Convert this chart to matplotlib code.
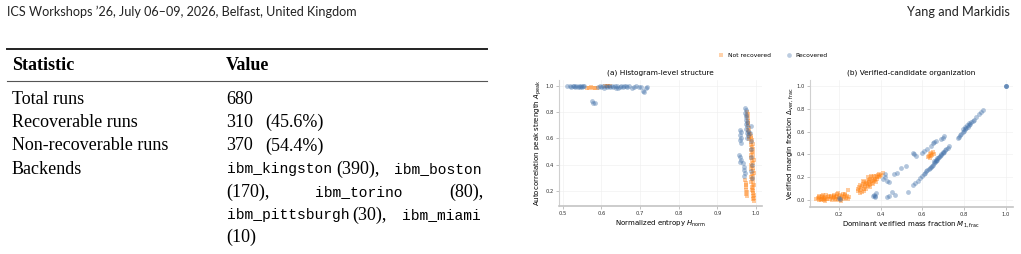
import matplotlib
matplotlib.use("Agg")
import matplotlib.pyplot as plt
from matplotlib.lines import Line2D

# ---- page text ----
header_left = "ICS Workshops \u201926, July 06\u201309, 2026, Belfast, United Kingdom"
header_right = "Yang and Markidis"

table_head = ["Statistic", "Value"]
row_labels = ["Total runs", "Recoverable runs", "Non-recoverable runs", "Backends"]
run_counts = ["680", "310", "370"]
run_shares = ["", "(45.6%)", "(54.4%)"]
backend_names = ["ibm_kingston", "ibm_boston", "ibm_torino", "ibm_pittsburgh", "ibm_miami"]
backend_runs = [390, 170, 80, 30, 10]

# ---- (a) histogram-level structure ----
rec_a_H = [0.512, 0.518, 0.522, 0.526, 0.529, 0.532, 0.535, 0.538, 0.541, 0.544, 0.547, 0.550,
           0.553, 0.556, 0.575, 0.579, 0.584, 0.592, 0.596, 0.600, 0.604, 0.607, 0.611, 0.615,
           0.619, 0.623, 0.627, 0.630, 0.634, 0.637, 0.641, 0.644, 0.648, 0.651, 0.655, 0.659,
           0.663, 0.667, 0.672, 0.678, 0.684, 0.690, 0.697, 0.703, 0.707, 0.710, 0.714, 0.719,
           0.971, 0.973, 0.972, 0.974, 0.975, 0.973, 0.976, 0.974, 0.977, 0.975, 0.978, 0.976,
           0.979, 0.977, 0.958, 0.960, 0.959, 0.961, 0.958, 0.960, 0.957, 0.959, 0.961, 0.958,
           0.966, 0.968, 0.970, 0.972, 0.970, 0.986, 0.988, 0.987, 0.989, 0.988, 0.990, 0.986,
           0.984]
rec_a_A = [0.998, 0.995, 0.992, 0.999, 0.994, 0.990, 0.997, 0.993, 0.999, 0.988, 0.996, 0.992,
           0.998, 0.995, 0.880, 0.872, 0.866, 0.993, 0.998, 0.990, 0.996, 0.985, 0.999, 0.992,
           0.996, 0.988, 0.997, 0.993, 0.999, 0.986, 0.995, 0.980, 0.991, 0.997, 0.987, 0.994,
           0.999, 0.990, 0.996, 0.985, 0.993, 0.998, 0.988, 0.992, 0.960, 0.952, 0.985, 0.991,
           0.828, 0.812, 0.795, 0.780, 0.760, 0.742, 0.725, 0.705, 0.690, 0.672, 0.655, 0.640,
           0.622, 0.605, 0.660, 0.645, 0.625, 0.605, 0.585, 0.568, 0.470, 0.455, 0.438, 0.422,
           0.410, 0.385, 0.360, 0.335, 0.315, 0.580, 0.520, 0.460, 0.400, 0.350, 0.300, 0.690,
           0.640]
nrec_a_H = [0.562, 0.567, 0.572, 0.578, 0.583, 0.588, 0.608, 0.613, 0.617, 0.622,
            0.976, 0.978, 0.977, 0.979, 0.978, 0.980, 0.979, 0.981, 0.980, 0.982, 0.981, 0.983,
            0.982, 0.985, 0.988, 0.986, 0.990, 0.987, 0.991, 0.986, 0.989, 0.992, 0.987, 0.990,
            0.993, 0.988, 0.991, 0.986, 0.994, 0.989, 0.992, 0.987, 0.990, 0.993, 0.988, 0.991,
            0.994, 0.989, 0.992, 0.987, 0.990, 0.993, 0.988, 0.991, 0.994, 0.989, 0.992, 0.990,
            0.993, 0.991, 0.994, 0.992, 0.995, 0.993, 0.994, 0.972, 0.974, 0.973, 0.975, 0.974,
            0.976, 0.975, 0.977]
nrec_a_A = [0.985, 0.980, 0.988, 0.982, 0.986, 0.979, 1.000, 0.998, 1.000, 0.996,
            0.800, 0.785, 0.770, 0.752, 0.735, 0.718, 0.700, 0.682, 0.665, 0.648, 0.630, 0.612,
            0.595, 0.630, 0.615, 0.600, 0.588, 0.575, 0.560, 0.548, 0.535, 0.522, 0.510, 0.498,
            0.485, 0.472, 0.460, 0.448, 0.436, 0.424, 0.412, 0.400, 0.388, 0.376, 0.364, 0.352,
            0.340, 0.328, 0.316, 0.304, 0.292, 0.280, 0.268, 0.256, 0.244, 0.232, 0.220, 0.208,
            0.196, 0.184, 0.172, 0.160, 0.148, 0.136, 0.125, 0.280, 0.262, 0.245, 0.228, 0.210,
            0.192, 0.175, 0.165]

# ---- (b) verified-candidate organization ----
rec_b_M = [0.557, 0.566, 0.578, 0.590, 0.600, 0.607, 0.613, 0.619, 0.624, 0.630, 0.635, 0.640,
           0.645, 0.650, 0.655, 0.660, 0.664, 0.668, 0.672, 0.676, 0.680, 0.686, 0.692, 0.698,
           0.704, 0.710, 0.716, 0.722, 0.728, 0.655, 0.670, 0.690, 0.700,
           0.770, 0.776, 0.782, 0.788, 0.794, 0.800, 0.806, 0.812, 0.818, 0.824, 0.830, 0.836,
           0.842, 0.848, 0.795, 0.805, 0.815, 0.825, 0.860, 0.870, 0.880, 0.890,
           0.557, 0.562, 0.568, 0.600, 0.610, 0.625, 0.640, 0.650, 0.658, 0.665, 0.690, 0.700,
           0.705, 0.500, 0.520, 0.480, 0.465, 0.420, 0.410, 0.430, 0.440, 0.420, 0.470, 0.455,
           0.440, 0.430, 0.530, 0.365, 0.370, 0.375, 0.380, 0.372, 0.198, 0.205, 1.000, 1.000,
           1.000]
rec_b_D = [0.135, 0.150, 0.172, 0.196, 0.215, 0.228, 0.240, 0.252, 0.262, 0.272, 0.283, 0.292,
           0.302, 0.310, 0.322, 0.330, 0.340, 0.350, 0.356, 0.365, 0.375, 0.386, 0.398, 0.410,
           0.423, 0.436, 0.448, 0.460, 0.472, 0.340, 0.368, 0.405, 0.425,
           0.540, 0.552, 0.566, 0.580, 0.594, 0.605, 0.618, 0.630, 0.642, 0.655, 0.668, 0.680,
           0.692, 0.705, 0.625, 0.640, 0.658, 0.672, 0.730, 0.750, 0.770, 0.790,
           0.410, 0.400, 0.390, 0.410, 0.430, 0.450, 0.470, 0.500, 0.510, 0.520, 0.535, 0.545,
           0.560, 0.280, 0.300, 0.240, 0.230, 0.230, 0.190, 0.170, 0.160, 0.200, 0.050, 0.070,
           0.040, 0.025, 0.075, 0.035, 0.050, 0.040, 0.060, 0.025, 0.020, 0.015, 1.000, 1.000,
           1.000]
nrec_b_M = [0.092, 0.098, 0.102, 0.106, 0.110, 0.113, 0.117, 0.120, 0.123, 0.127, 0.130, 0.133,
            0.137, 0.140, 0.144, 0.148, 0.152, 0.156, 0.160, 0.164, 0.105, 0.125, 0.135, 0.118,
            0.165, 0.170, 0.175, 0.178, 0.182, 0.186, 0.190, 0.193, 0.197, 0.200, 0.204, 0.207,
            0.211, 0.215, 0.218, 0.222, 0.226, 0.230, 0.235, 0.240, 0.245, 0.250, 0.185, 0.212,
            0.195, 0.228, 0.176, 0.243,
            0.290, 0.293, 0.296, 0.300, 0.303, 0.306, 0.309, 0.312, 0.315, 0.318, 0.321, 0.324,
            0.327, 0.330, 0.333, 0.336, 0.339, 0.342, 0.345, 0.348, 0.351, 0.354, 0.357, 0.360,
            0.363, 0.366, 0.369, 0.372, 0.375, 0.378, 0.381, 0.384, 0.387, 0.390, 0.394, 0.398,
            0.402, 0.330, 0.350, 0.315, 0.340, 0.365, 0.380, 0.355, 0.300, 0.410, 0.320, 0.345,
            0.628, 0.632, 0.636, 0.640, 0.644, 0.648, 0.652, 0.638, 0.655]
nrec_b_D = [0.010, 0.020, 0.005, 0.030, 0.015, 0.000, 0.025, 0.038, 0.010, 0.020, 0.002, 0.032,
            0.015, 0.042, 0.008, 0.025, 0.035, 0.012, 0.028, 0.040, 0.040, 0.045, -0.005, 0.008,
            0.005, 0.018, 0.030, 0.045, 0.010, 0.025, 0.040, 0.055, 0.015, 0.032, 0.048, 0.005,
            0.022, 0.038, 0.052, 0.012, 0.030, 0.045, 0.020, 0.035, 0.010, 0.030, 0.000, -0.005,
            0.060, 0.058, 0.038, 0.090,
            0.080, 0.100, 0.120, 0.090, 0.135, 0.110, 0.075, 0.125, 0.145, 0.100, 0.160, 0.130,
            0.115, 0.150, 0.170, 0.140, 0.125, 0.180, 0.160, 0.145, 0.190, 0.170, 0.155, 0.200,
            0.180, 0.165, 0.210, 0.190, 0.175, 0.215, 0.200, 0.185, 0.222, 0.205, 0.230, 0.212,
            0.225, 0.095, 0.120, 0.170, 0.200, 0.140, 0.160, 0.210, 0.060, 0.235, 0.085, 0.130,
            0.375, 0.390, 0.400, 0.385, 0.410, 0.395, 0.420, 0.365, 0.405]

ORANGE = "#ff7f0e"
BLUE = "#3f6fa8"
SERIF = ["Liberation Serif", "DejaVu Serif"]
MONO = ["Liberation Mono", "DejaVu Sans Mono"]

fig = plt.figure(figsize=(10.21, 2.54), dpi=100)

# page layer in pixel coordinates
pg = fig.add_axes([0, 0, 1, 1])
pg.set_xlim(0, 1021)
pg.set_ylim(254, 0)
pg.axis("off")

pg.text(7, 12, header_left, fontsize=9.1, family="Lato", va="center", color="#222222")
pg.text(1010, 12, header_right, fontsize=9.1, family="Lato", va="center", ha="right", color="#222222")

pg.plot([7, 487], [49, 49], color="#222222", lw=1.4)
pg.plot([7, 487], [81, 81], color="#555555", lw=0.8)
pg.text(12, 65, table_head[0], fontsize=13, family=SERIF, weight="bold", va="center")
pg.text(226, 65, table_head[1], fontsize=13, family=SERIF, weight="bold", va="center")

row_y = [99, 122.5, 146, 169.5]
for lab, y in zip(row_labels, row_y):
    pg.text(12, y, lab, fontsize=13, family=SERIF, va="center")
for cnt, share, y in zip(run_counts, run_shares, row_y):
    pg.text(226.5, y, cnt, fontsize=13, family=SERIF, va="center")
    if share:
        pg.text(265, y, share, fontsize=13, family=SERIF, va="center")

# justified backend list
bl = [169.5, 192.5, 215, 237.5]
pg.text(226.5, bl[0], backend_names[0], fontsize=10.5, family=MONO, va="center")
pg.text(336, bl[0], "(%d)," % backend_runs[0], fontsize=13, family=SERIF, va="center")
pg.text(481, bl[0], backend_names[1], fontsize=10.5, family=MONO, va="center", ha="right")
pg.text(226.5, bl[1], "(%d)," % backend_runs[1], fontsize=13, family=SERIF, va="center")
pg.text(315, bl[1], backend_names[2], fontsize=10.5, family=MONO, va="center")
pg.text(483, bl[1], "(%d)," % backend_runs[2], fontsize=13, family=SERIF, va="center", ha="right")
pg.text(226.5, bl[2], backend_names[3], fontsize=10.5, family=MONO, va="center")
pg.text(352, bl[2], "(%d)," % backend_runs[3], fontsize=13, family=SERIF, va="center")
pg.text(481, bl[2], backend_names[4], fontsize=10.5, family=MONO, va="center", ha="right")
pg.text(226.5, bl[3], "(%d)" % backend_runs[4], fontsize=13, family=SERIF, va="center")

# ---- scatter panels ----
ax_a = fig.add_axes([559 / 1021, 48.3 / 254, 203 / 1021, 125.7 / 254])
ax_b = fig.add_axes([810 / 1021, 47.3 / 254, 202.7 / 1021, 126.7 / 254])


def style(ax):
    for s in ["top", "right"]:
        ax.spines[s].set_visible(False)
    ax.spines["left"].set_color("#d0d0d0")
    ax.spines["left"].set_linewidth(0.8)
    ax.spines["bottom"].set_color("#c4c4c4")
    ax.spines["bottom"].set_linewidth(1.2)
    ax.tick_params(labelsize=3.8, length=2, width=0.5, color="#aaaaaa",
                   labelcolor="#333333", pad=1.5)
    ax.grid(True, color="#eeeeee", lw=0.4)
    ax.set_axisbelow(True)


ax_a.scatter(nrec_a_H, nrec_a_A, s=12, marker="s", color=ORANGE, alpha=0.4, linewidths=0)
ax_a.scatter(rec_a_H, rec_a_A, s=12, marker="o", color=BLUE, alpha=0.4, linewidths=0)
ax_a.set_xlim(0.49, 1.0155)
ax_a.set_ylim(0.088, 1.043)
ax_a.set_xticks([0.5, 0.6, 0.7, 0.8, 0.9, 1.0])
ax_a.set_yticks([0.2, 0.4, 0.6, 0.8, 1.0])
style(ax_a)
ax_a.set_title("(a) Histogram-level structure", fontsize=5.3, pad=4)
ax_a.set_xlabel(r"Normalized entropy $H_{\mathrm{norm}}$", fontsize=5.0, labelpad=2)
ax_a.set_ylabel(r"Autocorrelation peak strength $A_{\mathrm{peak}}$", fontsize=5.0, labelpad=1.5)

ax_b.scatter(nrec_b_M, nrec_b_D, s=12, marker="s", color=ORANGE, alpha=0.4, linewidths=0)
ax_b.scatter(rec_b_M, rec_b_D, s=12, marker="o", color=BLUE, alpha=0.4, linewidths=0)
ax_b.set_xlim(0.061, 1.034)
ax_b.set_ylim(-0.056, 1.05)
ax_b.set_xticks([0.2, 0.4, 0.6, 0.8, 1.0])
ax_b.set_yticks([0.0, 0.2, 0.4, 0.6, 0.8, 1.0])
style(ax_b)
ax_b.set_title("(b) Verified-candidate organization", fontsize=5.3, pad=4)
ax_b.set_xlabel(r"Dominant verified mass fraction $M_{1,\mathrm{frac}}$", fontsize=5.0, labelpad=2)
ax_b.set_ylabel(r"Verified margin fraction $\Delta_{\mathrm{ver,\,frac}}$", fontsize=5.0, labelpad=1.5)

handles = [Line2D([], [], ls="none", marker="s", ms=3.4, color=ORANGE, alpha=0.35, mew=0),
           Line2D([], [], ls="none", marker="o", ms=3.4, color=BLUE, alpha=0.35, mew=0)]
fig.legend(handles, ["Not recovered", "Recovered"], loc="center",
           bbox_to_anchor=(773 / 1021, 1 - 55.7 / 254), ncol=2, frameon=False,
           fontsize=4.3, handletextpad=0.6, columnspacing=2.6, handlelength=1.0)

fig.savefig("out.png", dpi=100)
